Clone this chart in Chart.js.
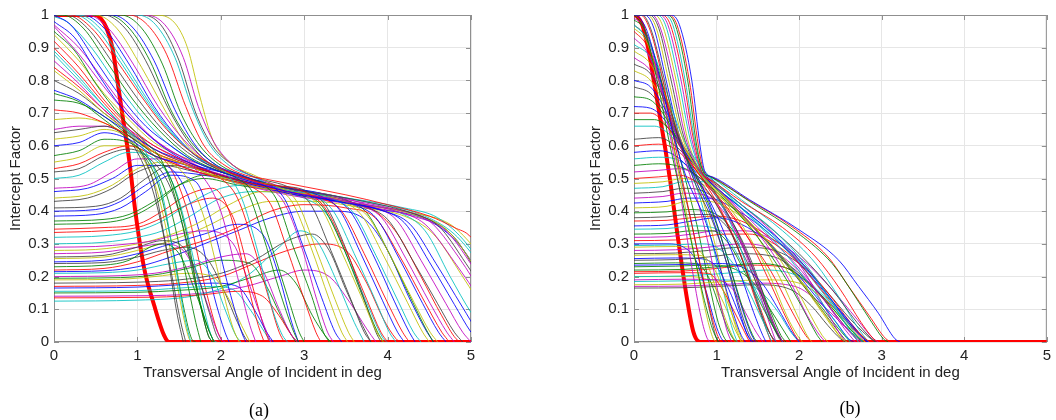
<!DOCTYPE html>
<html>
<head>
<meta charset="utf-8">
<script src="https://cdn.jsdelivr.net/npm/chart.js@4.4.1/dist/chart.umd.min.js"></script>
<style>
  body { margin: 0; background: #fff; width: 1056px; height: 420px; overflow: hidden; position: relative; }
  canvas { position: absolute; top: 0; }
  #chartA { left: 0; }
  #chartB { left: 528px; }
  .cap { position: absolute; font: 18px "Liberation Serif", "Times New Roman", serif; color: #000; transform: translate(-50%, -50%); }
</style>
</head>
<body>
<canvas id="chartA" width="528" height="420"></canvas>
<canvas id="chartB" width="528" height="420"></canvas>
<div class="cap" style="left:259px;top:410px">(a)</div>
<div class="cap" style="left:850px;top:408px">(b)</div>
<script>
const xTickLabels = ['0', '1', '2', '3', '4', '5'];
const yTickLabels = ['0', '0.1', '0.2', '0.3', '0.4', '0.5', '0.6', '0.7', '0.8', '0.9', '1'];
const xTitle = 'Transversal Angle of Incident in deg';
const yTitle = 'Intercept Factor';

// (a) curves that start on the 1.0 plateau
const topA = [
  [[0,1],[0.2,0.97],[0.5,0.86],[0.8,0.75],[1.1,0.66],[1.4,0.6],[1.7,0.55],[2.0,0.52],[2.8,0.46],[3.4,0.43],[3.96,0.4],[4.27,0.36],[4.58,0.24],[4.89,0.11],[5.1,0.025],[5.2,0]],
  [[0,1],[0.1,1],[0.35,0.96],[0.65,0.85],[0.95,0.74],[1.25,0.65],[1.6,0.57],[2.0,0.52],[2.2,0.5],[2.4,0.45],[2.6,0.3],[2.8,0.14],[2.94,0.03],[3.0,0]],
  [[0,1],[0.2,1],[0.45,0.96],[0.75,0.86],[1.05,0.75],[1.35,0.65],[1.65,0.58],[2.0,0.53],[2.5,0.485],[3.0,0.46],[3.25,0.41],[3.5,0.28],[3.75,0.13],[3.92,0.03],[4.0,0]],
  [[0,1],[0.3,1],[0.55,0.96],[0.85,0.85],[1.15,0.73],[1.45,0.63],[1.75,0.56],[2.05,0.52],[2.25,0.44],[2.45,0.27],[2.62,0.1],[2.74,0.02],[2.8,0]],
  [[0,1],[0.4,1],[0.65,0.96],[0.95,0.85],[1.25,0.72],[1.55,0.62],[1.85,0.55],[2.1,0.52],[2.8,0.46],[3.3,0.44],[3.64,0.42],[3.93,0.38],[4.22,0.255],[4.51,0.118],[4.71,0.03],[4.8,0]],
  [[0,1],[0.5,1],[0.75,0.96],[1.05,0.84],[1.35,0.7],[1.6,0.6],[1.9,0.54],[2.15,0.51],[2.4,0.49],[2.68,0.475],[2.91,0.43],[3.14,0.285],[3.37,0.13],[3.53,0.03],[3.6,0]],
  [[0,1],[0.6,1],[0.85,0.96],[1.1,0.86],[1.4,0.7],[1.65,0.6],[1.95,0.53],[2.2,0.51],[2.8,0.47],[3.4,0.445],[4.0,0.415],[4.28,0.395],[4.61,0.355],[4.94,0.24],[5.27,0.11],[5.5,0.02],[5.6,0]],
  [[0,1],[0.7,1],[0.95,0.96],[1.2,0.86],[1.45,0.71],[1.7,0.6],[1.95,0.54],[2.2,0.515],[2.6,0.48],[3.16,0.45],[3.42,0.405],[3.68,0.27],[3.94,0.126],[4.12,0.03],[4.2,0]],
  [[0,1],[0.8,1],[1.05,0.96],[1.3,0.85],[1.52,0.7],[1.75,0.6],[2.0,0.54],[2.25,0.51],[2.44,0.49],[2.66,0.44],[2.87,0.29],[3.09,0.14],[3.23,0.03],[3.3,0]],
  [[0,1],[0.9,1],[1.12,0.97],[1.35,0.88],[1.58,0.72],[1.8,0.6],[2.05,0.54],[2.3,0.51],[2.5,0.5],[3.0,0.475],[3.5,0.45],[4.0,0.42],[4.5,0.385],[4.8,0.35],[5.0,0.32],[5.3,0.18]],
  [[0,1],[1.0,1],[1.22,0.97],[1.45,0.87],[1.65,0.72],[1.85,0.61],[2.1,0.54],[2.35,0.51],[2.7,0.47],[3.32,0.44],[3.59,0.395],[3.86,0.265],[4.13,0.123],[4.31,0.03],[4.4,0]],
  [[0,1],[1.1,1],[1.33,0.97],[1.55,0.87],[1.73,0.72],[1.92,0.61],[2.15,0.54],[2.4,0.505],[2.8,0.47],[3.3,0.45],[3.8,0.415],[4.1,0.375],[4.4,0.25],[4.7,0.117],[4.9,0.03],[5.0,0]],
  [[0,1],[1.2,1],[1.45,0.975],[1.6,0.9],[1.75,0.75],[1.9,0.62],[2.1,0.55],[2.4,0.51],[2.8,0.465],[3.48,0.43],[3.76,0.385],[4.04,0.26],[4.32,0.12],[4.51,0.03],[4.6,0]],
  [[0,1],[1.05,1],[1.28,0.97],[1.5,0.86],[1.7,0.7],[1.9,0.6],[2.15,0.54],[2.4,0.505],[2.84,0.47],[3.08,0.42],[3.32,0.28],[3.56,0.13],[3.72,0.03],[3.8,0]]
];

// (a) curves that start between 0.7 and 1 and fall at once
const fallA = [
  [[0,0.98],[0.25,0.93],[0.5,0.83],[0.8,0.72],[1.1,0.64],[1.4,0.58],[1.7,0.54],[2.0,0.52],[2.3,0.5],[2.55,0.485],[2.77,0.435],[2.99,0.29],[3.21,0.135],[3.37,0.03],[3.45,0]],
  [[0,0.95],[0.25,0.89],[0.5,0.79],[0.8,0.69],[1.1,0.61],[1.3,0.55],[1.5,0.4],[1.7,0.17],[1.85,0.04],[1.92,0]],
  [[0,0.92],[0.3,0.84],[0.6,0.74],[0.9,0.66],[1.2,0.6],[1.6,0.55],[2.0,0.51],[2.7,0.465],[3.2,0.44],[3.45,0.4],[3.72,0.27],[3.99,0.125],[4.18,0.03],[4.26,0]],
  [[0,0.89],[0.3,0.81],[0.6,0.72],[0.9,0.64],[1.1,0.58],[1.3,0.45],[1.45,0.24],[1.58,0.06],[1.64,0]],
  [[0,0.86],[0.3,0.79],[0.6,0.71],[0.9,0.65],[1.2,0.6],[1.5,0.56],[1.8,0.5],[2.0,0.4],[2.2,0.2],[2.35,0.05],[2.42,0]],
  [[0,0.83],[0.3,0.77],[0.6,0.7],[0.9,0.64],[1.2,0.58],[1.6,0.54],[2.0,0.5],[2.5,0.47],[2.95,0.455],[3.2,0.41],[3.45,0.275],[3.7,0.13],[3.87,0.03],[3.95,0]],
  [[0,0.8],[0.3,0.76],[0.6,0.7],[0.8,0.66],[1.0,0.6],[1.2,0.48],[1.35,0.28],[1.48,0.08],[1.55,0]],
  [[0,0.77],[0.3,0.74],[0.6,0.69],[0.9,0.64],[1.2,0.59],[1.6,0.55],[2.0,0.51],[2.8,0.455],[3.4,0.43],[3.9,0.405],[4.2,0.365],[4.5,0.245],[4.8,0.115],[5.0,0.03],[5.1,0]],
  [[0,0.74],[0.3,0.73],[0.6,0.69],[0.9,0.63],[1.2,0.57],[1.4,0.5],[1.6,0.32],[1.75,0.12],[1.85,0.02],[1.9,0]],
  [[0,0.71],[0.3,0.7],[0.6,0.67],[0.9,0.63],[1.2,0.58],[1.6,0.54],[2.0,0.5],[2.2,0.44],[2.4,0.29],[2.58,0.13],[2.7,0.03],[2.76,0]],
  [[0,0.995],[0.15,0.98],[0.45,0.9],[0.75,0.79],[1.05,0.69],[1.35,0.61],[1.7,0.55],[2.0,0.52],[2.6,0.48],[3.4,0.445],[4.2,0.41],[4.6,0.38],[4.95,0.3],[5.3,0.16]],
  [[0,0.97],[0.3,0.9],[0.6,0.8],[0.9,0.7],[1.2,0.62],[1.5,0.57],[1.9,0.53],[2.6,0.475],[3.4,0.44],[4.1,0.405],[4.5,0.37],[4.85,0.26],[5.2,0.12]]
];

// (a) curves that start near 0.45-0.7 and bulge into the knot
const humpA = [
  [[0,0.68],[0.3,0.685],[0.6,0.67],[0.9,0.63],[1.2,0.58],[1.5,0.55],[1.8,0.52],[2.6,0.47],[3.4,0.435],[3.68,0.39],[3.96,0.26],[4.24,0.12],[4.42,0.03],[4.5,0]],
  [[0,0.64],[0.3,0.65],[0.6,0.66],[0.8,0.64],[1.0,0.58],[1.2,0.45],[1.4,0.22],[1.52,0.06],[1.58,0]],
  [[0,0.6],[0.3,0.61],[0.6,0.64],[0.9,0.62],[1.2,0.57],[1.6,0.54],[2.0,0.51],[2.8,0.46],[3.58,0.42],[3.86,0.38],[4.14,0.255],[4.42,0.118],[4.61,0.03],[4.7,0]],
  [[0,0.57],[0.3,0.585],[0.6,0.62],[0.9,0.61],[1.1,0.57],[1.35,0.45],[1.55,0.24],[1.7,0.06],[1.76,0]],
  [[0,0.53],[0.3,0.545],[0.6,0.58],[0.9,0.6],[1.2,0.57],[1.6,0.53],[2.0,0.5],[2.4,0.47],[2.6,0.42],[2.8,0.28],[3.0,0.13],[3.14,0.03],[3.2,0]],
  [[0,0.5],[0.3,0.51],[0.6,0.55],[0.9,0.58],[1.2,0.56],[1.45,0.47],[1.65,0.28],[1.8,0.1],[1.9,0.01],[1.95,0]],
  [[0,0.47],[0.4,0.48],[0.7,0.52],[1.0,0.56],[1.3,0.56],[1.6,0.53],[2.0,0.5],[2.8,0.455],[3.5,0.43],[4.1,0.4],[4.45,0.36],[4.8,0.245],[5.15,0.11],[5.33,0.02],[5.4,0]],
  [[0,0.44],[0.4,0.45],[0.7,0.48],[1.0,0.53],[1.3,0.55],[1.6,0.5],[1.8,0.38],[2.0,0.18],[2.15,0.04],[2.22,0]]
];

// (a) curves that start near 0.3-0.4 and rise towards the band
const riseA = [
  [[0,0.41],[0.5,0.415],[0.8,0.44],[1.1,0.5],[1.4,0.54],[1.7,0.53],[2.0,0.51],[2.5,0.48],[3.0,0.46],[3.4,0.44],[3.7,0.415],[4.0,0.375],[4.3,0.25],[4.6,0.117],[4.8,0.03],[4.9,0]],
  [[0,0.385],[0.5,0.39],[0.8,0.41],[1.1,0.46],[1.4,0.51],[1.7,0.49],[1.9,0.36],[2.1,0.16],[2.25,0.03],[2.3,0]],
  [[0,0.36],[0.6,0.365],[0.9,0.38],[1.2,0.42],[1.5,0.48],[1.8,0.51],[2.1,0.5],[2.3,0.47],[2.5,0.33],[2.7,0.16],[2.86,0.04],[2.93,0]],
  [[0,0.345],[0.6,0.35],[1.0,0.36],[1.3,0.4],[1.6,0.45],[1.9,0.47],[2.1,0.4],[2.3,0.2],[2.45,0.05],[2.52,0]],
  [[0,0.32],[0.6,0.325],[1.0,0.34],[1.3,0.37],[1.6,0.42],[2.0,0.47],[2.4,0.48],[3.1,0.45],[3.35,0.4],[3.6,0.27],[3.85,0.13],[4.02,0.03],[4.1,0]]
];

// (a) low curves, 0.12-0.3
const lowA = [
  [[0,0.29],[0.5,0.292],[0.9,0.3],[1.2,0.31],[1.5,0.33],[1.8,0.34],[2.15,0.3],[2.35,0.17],[2.52,0.05],[2.6,0]],
  [[0,0.28],[0.5,0.283],[1.0,0.3],[1.3,0.32],[1.7,0.36],[2.1,0.42],[2.5,0.46],[3.0,0.45],[3.6,0.425],[4.3,0.39],[4.7,0.345],[5.05,0.23],[5.4,0.1],[5.65,0.02],[5.75,0]],
  [[0,0.26],[0.6,0.265],[1.0,0.29],[1.3,0.31],[1.5,0.3],[1.7,0.22],[1.85,0.1],[1.95,0.02],[2.0,0]],
  [[0,0.245],[0.6,0.25],[1.0,0.27],[1.4,0.3],[1.8,0.33],[2.2,0.36],[2.5,0.33],[2.7,0.2],[2.85,0.06],[2.93,0]],
  [[0,0.23],[0.6,0.235],[0.9,0.25],[1.15,0.29],[1.3,0.3],[1.5,0.27],[1.7,0.15],[1.85,0.04],[1.92,0]],
  [[0,0.22],[0.6,0.225],[1.0,0.245],[1.4,0.28],[1.8,0.31],[2.2,0.35],[2.6,0.4],[3.0,0.42],[3.5,0.41],[3.85,0.38],[4.15,0.26],[4.45,0.12],[4.65,0.03],[4.74,0]],
  [[0,0.21],[0.6,0.212],[1.0,0.22],[1.4,0.24],[1.7,0.25],[1.9,0.2],[2.05,0.1],[2.18,0.02],[2.24,0]],
  [[0,0.2],[0.8,0.203],[1.2,0.21],[1.6,0.23],[2.0,0.26],[2.3,0.27],[2.5,0.22],[2.7,0.1],[2.85,0.02],[2.92,0]],
  [[0,0.19],[0.8,0.192],[1.2,0.2],[1.6,0.21],[1.9,0.2],[2.1,0.13],[2.25,0.05],[2.35,0]],
  [[0,0.18],[1.0,0.183],[1.5,0.19],[2.0,0.21],[2.4,0.25],[2.8,0.31],[3.1,0.33],[3.3,0.28],[3.5,0.16],[3.7,0.05],[3.8,0]],
  [[0,0.165],[1.0,0.168],[1.5,0.175],[1.9,0.18],[2.2,0.17],[2.4,0.1],[2.55,0.03],[2.63,0]],
  [[0,0.15],[1.0,0.152],[1.5,0.158],[2.0,0.17],[2.4,0.2],[2.7,0.22],[2.9,0.18],[3.1,0.08],[3.25,0.02],[3.32,0]],
  [[0,0.135],[1.2,0.137],[1.8,0.145],[2.2,0.155],[2.5,0.14],[2.7,0.08],[2.85,0.02],[2.92,0]],
  [[0,0.125],[1.0,0.128],[1.75,0.145],[2.3,0.2],[2.7,0.29],[2.95,0.34],[3.15,0.31],[3.4,0.18],[3.6,0.06],[3.72,0]]
];

// (a) further curves filling the family
const moreA = [
  [[0,0.965],[0.3,0.88],[0.6,0.78],[0.9,0.69],[1.2,0.62],[1.5,0.57],[1.8,0.53],[2.2,0.5],[2.5,0.48],[2.75,0.43],[2.97,0.29],[3.15,0.13],[3.28,0.03],[3.35,0]],
  [[0,0.94],[0.3,0.86],[0.6,0.76],[0.9,0.68],[1.2,0.61],[1.6,0.56],[2.0,0.52],[2.6,0.475],[2.85,0.43],[3.08,0.29],[3.3,0.13],[3.45,0.03],[3.52,0]],
  [[0,1],[0.15,1],[0.4,0.96],[0.7,0.855],[1.0,0.745],[1.3,0.65],[1.6,0.58],[1.95,0.53],[2.6,0.48],[3.0,0.465],[3.25,0.42],[3.5,0.285],[3.72,0.13],[3.86,0.03],[3.92,0]],
  [[0,1],[0.35,1],[0.6,0.96],[0.9,0.85],[1.2,0.72],[1.5,0.62],[1.8,0.55],[2.1,0.52],[2.7,0.475],[3.3,0.445],[3.55,0.4],[3.82,0.27],[4.08,0.125],[4.26,0.03],[4.33,0]],
  [[0,1],[0.65,1],[0.9,0.96],[1.15,0.86],[1.42,0.7],[1.68,0.6],[1.95,0.54],[2.2,0.51],[2.8,0.47],[3.5,0.435],[3.75,0.395],[4.03,0.265],[4.3,0.122],[4.48,0.03],[4.55,0]],
  [[0,0.9],[0.3,0.82],[0.6,0.73],[0.9,0.65],[1.2,0.59],[1.6,0.545],[2.0,0.51],[2.8,0.46],[3.5,0.43],[3.85,0.4],[4.12,0.33],[4.4,0.2],[4.65,0.08],[4.82,0.01],[4.88,0]],
  [[0,0.88],[0.3,0.8],[0.6,0.72],[0.9,0.645],[1.2,0.59],[1.6,0.545],[2.0,0.51],[2.8,0.46],[3.6,0.425],[4.15,0.395],[4.45,0.34],[4.75,0.2],[5.0,0.09],[5.2,0.02],[5.3,0]],
  [[0,0.65],[0.3,0.66],[0.6,0.66],[0.9,0.63],[1.2,0.58],[1.6,0.54],[2.0,0.5],[2.8,0.45],[3.6,0.42],[4.3,0.385],[4.7,0.34],[5.05,0.22],[5.4,0.09],[5.65,0.01],[5.7,0]],
  [[0,0.55],[0.3,0.565],[0.6,0.6],[0.9,0.6],[1.2,0.57],[1.6,0.53],[2.0,0.5],[2.8,0.455],[3.5,0.425],[4.3,0.395],[4.75,0.36],[5.0,0.3],[5.3,0.2]],
  [[0,0.43],[0.4,0.44],[0.7,0.47],[1.0,0.52],[1.3,0.54],[1.7,0.52],[2.1,0.5],[2.9,0.455],[3.7,0.42],[4.4,0.385],[4.8,0.32],[5.1,0.2],[5.4,0.08]],
  [[0,0.4],[0.5,0.405],[0.8,0.43],[1.1,0.48],[1.4,0.52],[1.8,0.51],[2.2,0.49],[3.0,0.45],[3.8,0.41],[4.5,0.37],[4.85,0.3],[5.2,0.17]],
  [[0,0.37],[0.6,0.375],[0.9,0.39],[1.2,0.43],[1.5,0.48],[1.8,0.5],[2.2,0.48],[2.9,0.45],[3.2,0.42],[3.45,0.3],[3.7,0.14],[3.88,0.03],[3.95,0]],
  [[0,0.335],[0.6,0.34],[1.0,0.35],[1.3,0.38],[1.6,0.42],[1.9,0.44],[2.15,0.38],[2.35,0.2],[2.5,0.06],[2.58,0]],
  [[0,0.3],[0.6,0.305],[1.0,0.32],[1.3,0.34],[1.6,0.38],[2.0,0.44],[2.4,0.46],[3.0,0.44],[3.3,0.38],[3.55,0.24],[3.8,0.09],[3.95,0.01],[4.0,0]],
  [[0,0.27],[0.6,0.275],[1.0,0.29],[1.3,0.3],[1.55,0.28],[1.75,0.18],[1.9,0.07],[2.0,0.01],[2.05,0]],
  [[0,0.255],[0.6,0.26],[1.0,0.28],[1.4,0.31],[1.8,0.35],[2.2,0.4],[2.6,0.43],[3.1,0.43],[3.7,0.41],[4.2,0.385],[4.55,0.33],[4.9,0.2],[5.2,0.08],[5.4,0.01]],
  [[0,0.24],[0.6,0.243],[1.0,0.26],[1.3,0.28],[1.6,0.29],[1.85,0.25],[2.05,0.15],[2.2,0.06],[2.3,0.01],[2.34,0]],
  [[0,0.215],[0.6,0.218],[1.0,0.23],[1.4,0.26],[1.8,0.3],[2.2,0.34],[2.6,0.38],[3.0,0.4],[3.4,0.4],[3.75,0.37],[4.0,0.28],[4.25,0.14],[4.45,0.04],[4.55,0]],
  [[0,0.195],[0.8,0.197],[1.2,0.205],[1.6,0.225],[2.0,0.25],[2.35,0.24],[2.55,0.17],[2.72,0.08],[2.85,0.02],[2.9,0]],
  [[0,0.17],[1.0,0.173],[1.5,0.18],[2.0,0.2],[2.4,0.24],[2.8,0.28],[3.2,0.3],[3.5,0.28],[3.75,0.18],[3.95,0.07],[4.1,0.01],[4.15,0]],
  [[0,0.155],[1.0,0.157],[1.5,0.165],[1.9,0.17],[2.15,0.16],[2.35,0.1],[2.5,0.04],[2.6,0]],
  [[0,0.14],[1.2,0.142],[1.8,0.15],[2.3,0.17],[2.7,0.2],[3.0,0.22],[3.3,0.2],[3.55,0.12],[3.75,0.04],[3.86,0]],
  [[0,0.62],[0.3,0.63],[0.6,0.65],[0.85,0.63],[1.05,0.57],[1.25,0.45],[1.42,0.25],[1.55,0.08],[1.62,0.01],[1.65,0]],
  [[0,0.52],[0.3,0.53],[0.6,0.57],[0.9,0.59],[1.15,0.56],[1.4,0.47],[1.6,0.3],[1.75,0.12],[1.85,0.02],[1.9,0]],
  [[0,0.46],[0.4,0.47],[0.7,0.5],[1.0,0.54],[1.3,0.54],[1.55,0.48],[1.75,0.33],[1.92,0.14],[2.05,0.03],[2.1,0]],
  [[0,0.76],[0.3,0.735],[0.6,0.68],[0.85,0.63],[1.05,0.58],[1.25,0.48],[1.42,0.29],[1.56,0.1],[1.65,0.01],[1.7,0]],
  [[0,0.84],[0.3,0.78],[0.6,0.71],[0.9,0.645],[1.15,0.59],[1.4,0.53],[1.6,0.4],[1.8,0.18],[1.95,0.04],[2.02,0]],
  [[0,1],[0.25,1],[0.5,0.96],[0.8,0.855],[1.1,0.74],[1.4,0.64],[1.7,0.57],[2.0,0.53],[2.6,0.48],[3.2,0.455],[3.8,0.425],[4.4,0.39],[4.8,0.33],[5.1,0.24],[5.4,0.13]]
];

const redA = [[0,1],[0.5,1],[0.56,0.99],[0.63,0.96],[0.7,0.9],[0.76,0.8],[0.82,0.695],[0.9,0.56],[0.98,0.39],[1.08,0.227],[1.2,0.113],[1.32,0.02],[1.38,0],[5,0]];

// (b) curves that start on the 1.0 plateau
const topB = [
  [[0,1],[0.45,1],[0.55,0.97],[0.7,0.8],[0.8,0.6],[0.86,0.52],[0.95,0.505],[1.4,0.435],[2.0,0.343],[2.48,0.25],[2.72,0.17],[2.96,0.088],[3.16,0.01],[3.22,0]],
  [[0,1],[0.4,1],[0.5,0.97],[0.65,0.8],[0.76,0.6],[0.84,0.52],[0.93,0.505],[1.4,0.43],[2.0,0.33],[2.4,0.24],[2.65,0.15],[2.88,0.06],[3.02,0.01],[3.08,0]],
  [[0,1],[0.34,1],[0.44,0.97],[0.6,0.8],[0.72,0.62],[0.84,0.51],[0.93,0.495],[1.3,0.43],[1.8,0.35],[2.2,0.26],[2.5,0.16],[2.75,0.06],[2.9,0.01],[2.95,0]],
  [[0,1],[0.28,1],[0.38,0.97],[0.54,0.8],[0.68,0.62],[0.82,0.52],[0.91,0.505],[1.2,0.44],[1.7,0.34],[2.1,0.23],[2.4,0.12],[2.6,0.04],[2.72,0]],
  [[0,1],[0.22,1],[0.32,0.96],[0.48,0.8],[0.62,0.63],[0.8,0.52],[0.89,0.5],[1.2,0.42],[1.6,0.3],[1.9,0.18],[2.1,0.08],[2.25,0.02],[2.32,0]],
  [[0,1],[0.16,1],[0.27,0.96],[0.42,0.8],[0.58,0.63],[0.78,0.52],[0.87,0.495],[1.1,0.43],[1.4,0.32],[1.65,0.2],[1.85,0.08],[1.98,0.02],[2.04,0]],
  [[0,1],[0.1,1],[0.2,0.96],[0.36,0.81],[0.52,0.64],[0.7,0.53],[0.95,0.44],[1.2,0.32],[1.4,0.19],[1.55,0.08],[1.66,0.02],[1.72,0]],
  [[0,1],[0.05,0.995],[0.16,0.95],[0.32,0.8],[0.48,0.63],[0.64,0.5],[0.85,0.38],[1.05,0.22],[1.2,0.09],[1.3,0.02],[1.35,0]],
  [[0,1],[0.12,0.96],[0.28,0.8],[0.42,0.62],[0.56,0.46],[0.7,0.3],[0.84,0.14],[0.95,0.04],[1.02,0]],
  [[0,1],[0.08,1],[0.2,0.95],[0.35,0.8],[0.5,0.6],[0.65,0.42],[0.8,0.24],[0.94,0.08],[1.03,0.01],[1.08,0]]
];

// (b) curves that start between 0.65 and 1 and fall at once
const fallB = [
  [[0,0.97],[0.15,0.93],[0.3,0.84],[0.45,0.72],[0.6,0.62],[0.8,0.54],[1.1,0.46],[1.5,0.36],[1.9,0.25],[2.25,0.13],[2.5,0.04],[2.62,0]],
  [[0,0.93],[0.15,0.89],[0.3,0.8],[0.45,0.68],[0.6,0.57],[0.75,0.45],[0.9,0.3],[1.02,0.15],[1.12,0.04],[1.18,0]],
  [[0,0.89],[0.2,0.85],[0.4,0.74],[0.6,0.6],[0.8,0.52],[1.1,0.44],[1.5,0.34],[1.85,0.22],[2.1,0.1],[2.28,0.02],[2.35,0]],
  [[0,0.85],[0.2,0.82],[0.4,0.72],[0.6,0.58],[0.75,0.48],[0.95,0.37],[1.15,0.22],[1.3,0.09],[1.4,0.02],[1.45,0]],
  [[0,0.8],[0.2,0.78],[0.4,0.7],[0.6,0.59],[0.8,0.52],[1.1,0.45],[1.5,0.37],[1.9,0.28],[2.3,0.16],[2.6,0.06],[2.78,0.01],[2.84,0]],
  [[0,0.75],[0.2,0.74],[0.4,0.68],[0.6,0.58],[0.8,0.48],[1.0,0.36],[1.2,0.2],[1.36,0.07],[1.46,0.01],[1.5,0]],
  [[0,0.7],[0.2,0.7],[0.4,0.66],[0.6,0.58],[0.8,0.51],[1.1,0.42],[1.4,0.31],[1.65,0.18],[1.85,0.07],[1.98,0.01],[2.03,0]],
  [[0,0.66],[0.25,0.66],[0.45,0.63],[0.65,0.57],[0.85,0.5],[1.1,0.4],[1.3,0.28],[1.48,0.14],[1.6,0.04],[1.67,0]],
  [[0,0.99],[0.1,0.97],[0.25,0.86],[0.4,0.68],[0.55,0.47],[0.68,0.26],[0.8,0.09],[0.88,0.015],[0.92,0]],
  [[0,0.96],[0.15,0.92],[0.3,0.8],[0.45,0.63],[0.6,0.44],[0.75,0.24],[0.88,0.08],[0.96,0.01],[1.0,0]]
];

// (b) curves that start near 0.33-0.62
const humpB = [
  [[0,0.62],[0.3,0.625],[0.5,0.6],[0.7,0.55],[0.9,0.5],[1.2,0.44],[1.6,0.36],[2.0,0.27],[2.4,0.16],[2.7,0.06],[2.88,0.01],[2.94,0]],
  [[0,0.58],[0.3,0.585],[0.5,0.57],[0.7,0.52],[0.9,0.44],[1.1,0.33],[1.3,0.2],[1.45,0.09],[1.56,0.02],[1.6,0]],
  [[0,0.54],[0.3,0.545],[0.5,0.54],[0.7,0.52],[0.9,0.48],[1.2,0.41],[1.5,0.32],[1.8,0.21],[2.05,0.1],[2.22,0.02],[2.28,0]],
  [[0,0.5],[0.3,0.505],[0.55,0.51],[0.75,0.49],[0.95,0.44],[1.15,0.35],[1.35,0.23],[1.52,0.11],[1.64,0.03],[1.7,0]],
  [[0,0.47],[0.35,0.475],[0.6,0.49],[0.85,0.49],[1.1,0.45],[1.4,0.39],[1.8,0.3],[2.2,0.19],[2.5,0.09],[2.7,0.02],[2.78,0]],
  [[0,0.44],[0.35,0.445],[0.6,0.455],[0.85,0.45],[1.05,0.41],[1.25,0.33],[1.45,0.22],[1.62,0.1],[1.74,0.03],[1.8,0]],
  [[0,0.41],[0.4,0.415],[0.65,0.43],[0.9,0.43],[1.2,0.4],[1.5,0.34],[1.8,0.26],[2.1,0.16],[2.35,0.07],[2.52,0.01],[2.58,0]],
  [[0,0.38],[0.4,0.383],[0.65,0.39],[0.9,0.39],[1.1,0.36],[1.3,0.28],[1.5,0.17],[1.66,0.07],[1.77,0.01],[1.82,0]],
  [[0,0.355],[0.4,0.358],[0.7,0.37],[1.0,0.38],[1.3,0.36],[1.6,0.31],[1.9,0.23],[2.2,0.14],[2.45,0.06],[2.6,0.01],[2.66,0]],
  [[0,0.33],[0.4,0.332],[0.7,0.34],[0.95,0.34],[1.15,0.3],[1.35,0.21],[1.55,0.11],[1.7,0.04],[1.8,0]]
];

// (b) low curves, 0.16-0.31
const lowB = [
  [[0,0.31],[0.5,0.312],[0.8,0.32],[1.1,0.33],[1.4,0.33],[1.7,0.3],[2.0,0.24],[2.3,0.15],[2.6,0.06],[2.8,0.01],[2.86,0]],
  [[0,0.295],[0.5,0.297],[0.8,0.3],[1.0,0.29],[1.2,0.24],[1.4,0.15],[1.55,0.07],[1.66,0.02],[1.72,0]],
  [[0,0.28],[0.5,0.282],[0.9,0.29],[1.3,0.3],[1.6,0.29],[1.9,0.24],[2.2,0.16],[2.45,0.08],[2.65,0.02],[2.72,0]],
  [[0,0.265],[0.5,0.267],[0.8,0.265],[0.98,0.22],[1.12,0.13],[1.24,0.05],[1.32,0]],
  [[0,0.25],[0.5,0.252],[0.9,0.26],[1.3,0.27],[1.7,0.26],[2.0,0.21],[2.3,0.13],[2.55,0.05],[2.72,0.01],[2.78,0]],
  [[0,0.235],[0.6,0.237],[1.0,0.24],[1.3,0.23],[1.55,0.18],[1.75,0.1],[1.9,0.035],[2.0,0]],
  [[0,0.22],[0.6,0.222],[1.0,0.23],[1.5,0.24],[1.9,0.22],[2.2,0.16],[2.45,0.09],[2.65,0.03],[2.78,0]],
  [[0,0.21],[0.6,0.212],[0.9,0.21],[1.05,0.17],[1.2,0.1],[1.32,0.04],[1.4,0]],
  [[0,0.2],[0.6,0.202],[1.1,0.21],[1.6,0.22],[2.0,0.2],[2.3,0.14],[2.55,0.07],[2.75,0.02],[2.85,0]],
  [[0,0.19],[0.6,0.192],[1.0,0.19],[1.2,0.16],[1.35,0.09],[1.48,0.03],[1.56,0]],
  [[0,0.175],[0.6,0.177],[1.1,0.185],[1.6,0.19],[2.0,0.18],[2.3,0.13],[2.55,0.06],[2.72,0.015],[2.8,0]],
  [[0,0.165],[0.6,0.166],[1.0,0.17],[1.5,0.175],[1.9,0.16],[2.15,0.11],[2.35,0.05],[2.5,0.01],[2.56,0]],
  [[0,0.3],[0.4,0.3],[0.6,0.29],[0.75,0.25],[0.88,0.15],[0.98,0.06],[1.06,0.01],[1.1,0]],
  [[0,0.24],[0.5,0.242],[0.75,0.24],[0.9,0.2],[1.02,0.12],[1.12,0.05],[1.2,0.01],[1.24,0]]
];

// (b) further curves filling the family
const moreB = [
  [[0,1],[0.42,1],[0.52,0.97],[0.67,0.8],[0.78,0.6],[0.85,0.52],[0.94,0.505],[1.35,0.44],[1.9,0.355],[2.35,0.26],[2.6,0.17],[2.85,0.08],[3.05,0.01],[3.12,0]],
  [[0,1],[0.37,1],[0.47,0.97],[0.62,0.8],[0.74,0.61],[0.84,0.52],[0.93,0.505],[1.3,0.435],[1.8,0.34],[2.2,0.24],[2.5,0.13],[2.72,0.04],[2.84,0]],
  [[0,1],[0.31,1],[0.41,0.97],[0.57,0.8],[0.7,0.62],[0.83,0.515],[0.92,0.5],[1.25,0.43],[1.7,0.33],[2.05,0.22],[2.3,0.11],[2.48,0.03],[2.56,0]],
  [[0,1],[0.25,1],[0.35,0.965],[0.51,0.8],[0.65,0.62],[0.81,0.52],[0.9,0.5],[1.15,0.43],[1.5,0.32],[1.78,0.19],[1.98,0.08],[2.12,0.01],[2.16,0]],
  [[0,1],[0.19,1],[0.3,0.96],[0.45,0.8],[0.6,0.63],[0.79,0.52],[0.88,0.495],[1.05,0.43],[1.3,0.31],[1.5,0.18],[1.65,0.07],[1.76,0.01],[1.8,0]],
  [[0,1],[0.13,1],[0.24,0.96],[0.39,0.8],[0.55,0.63],[0.72,0.51],[0.92,0.4],[1.1,0.26],[1.25,0.12],[1.36,0.03],[1.42,0]],
  [[0,0.985],[0.12,0.96],[0.28,0.85],[0.44,0.68],[0.6,0.52],[0.76,0.36],[0.9,0.19],[1.02,0.06],[1.1,0.01],[1.14,0]],
  [[0,0.95],[0.15,0.91],[0.3,0.82],[0.45,0.7],[0.6,0.59],[0.8,0.51],[1.05,0.43],[1.35,0.33],[1.65,0.22],[1.9,0.1],[2.08,0.02],[2.15,0]],
  [[0,0.91],[0.2,0.87],[0.35,0.78],[0.5,0.66],[0.65,0.55],[0.8,0.44],[0.95,0.3],[1.08,0.16],[1.18,0.05],[1.25,0]],
  [[0,0.87],[0.2,0.83],[0.4,0.73],[0.6,0.6],[0.8,0.52],[1.1,0.45],[1.5,0.35],[1.95,0.24],[2.3,0.13],[2.55,0.04],[2.68,0]],
  [[0,0.83],[0.2,0.8],[0.4,0.71],[0.55,0.62],[0.7,0.53],[0.85,0.42],[1.0,0.28],[1.13,0.14],[1.24,0.04],[1.3,0]],
  [[0,0.78],[0.2,0.76],[0.4,0.69],[0.6,0.59],[0.8,0.52],[1.1,0.44],[1.45,0.35],[1.8,0.25],[2.15,0.14],[2.42,0.05],[2.58,0]],
  [[0,0.72],[0.2,0.715],[0.4,0.67],[0.6,0.58],[0.8,0.49],[0.98,0.38],[1.15,0.24],[1.3,0.11],[1.41,0.03],[1.47,0]],
  [[0,0.68],[0.25,0.68],[0.45,0.645],[0.65,0.58],[0.85,0.51],[1.15,0.43],[1.5,0.34],[1.85,0.24],[2.2,0.13],[2.48,0.04],[2.62,0]],
  [[0,0.6],[0.3,0.605],[0.5,0.59],[0.7,0.54],[0.9,0.47],[1.1,0.38],[1.3,0.26],[1.47,0.13],[1.6,0.04],[1.66,0]],
  [[0,0.56],[0.3,0.565],[0.5,0.56],[0.7,0.53],[0.9,0.49],[1.2,0.43],[1.6,0.34],[2.0,0.24],[2.35,0.13],[2.62,0.04],[2.76,0]],
  [[0,0.52],[0.3,0.525],[0.55,0.53],[0.75,0.51],[0.95,0.46],[1.15,0.38],[1.35,0.27],[1.52,0.15],[1.65,0.05],[1.72,0]],
  [[0,0.485],[0.35,0.49],[0.6,0.5],[0.85,0.48],[1.1,0.43],[1.4,0.36],[1.7,0.28],[2.0,0.19],[2.28,0.09],[2.48,0.02],[2.55,0]],
  [[0,0.455],[0.35,0.46],[0.6,0.47],[0.85,0.46],[1.05,0.42],[1.25,0.34],[1.45,0.23],[1.6,0.12],[1.72,0.04],[1.8,0]],
  [[0,0.425],[0.4,0.43],[0.65,0.44],[0.9,0.44],[1.2,0.41],[1.55,0.35],[1.9,0.27],[2.25,0.17],[2.55,0.08],[2.75,0.02],[2.82,0]],
  [[0,0.395],[0.4,0.398],[0.65,0.405],[0.9,0.4],[1.1,0.37],[1.3,0.3],[1.5,0.19],[1.66,0.09],[1.78,0.02],[1.84,0]],
  [[0,0.37],[0.4,0.372],[0.7,0.38],[1.0,0.385],[1.3,0.37],[1.65,0.32],[2.0,0.25],[2.35,0.15],[2.62,0.06],[2.8,0.01],[2.86,0]],
  [[0,0.345],[0.4,0.347],[0.7,0.355],[0.95,0.35],[1.15,0.31],[1.35,0.22],[1.55,0.12],[1.7,0.04],[1.8,0]],
  [[0,0.32],[0.4,0.322],[0.7,0.33],[1.0,0.34],[1.35,0.34],[1.7,0.31],[2.05,0.25],[2.4,0.16],[2.7,0.07],[2.9,0.01],[2.96,0]],
  [[0,0.29],[0.5,0.292],[0.7,0.29],[0.85,0.26],[0.97,0.18],[1.08,0.09],[1.17,0.03],[1.23,0]],
  [[0,0.27],[0.5,0.272],[0.9,0.28],[1.3,0.29],[1.7,0.28],[2.05,0.23],[2.35,0.15],[2.62,0.07],[2.82,0.02],[2.92,0]],
  [[0,0.255],[0.5,0.257],[0.8,0.255],[1.0,0.23],[1.15,0.16],[1.28,0.08],[1.38,0.02],[1.44,0]],
  [[0,0.23],[0.5,0.232],[0.9,0.235],[1.2,0.225],[1.45,0.18],[1.65,0.1],[1.8,0.04],[1.9,0]],
  [[0,0.215],[0.6,0.217],[1.0,0.225],[1.4,0.235],[1.8,0.23],[2.1,0.18],[2.4,0.11],[2.65,0.04],[2.8,0]],
  [[0,0.185],[0.6,0.187],[1.0,0.19],[1.3,0.185],[1.55,0.15],[1.75,0.09],[1.9,0.03],[2.0,0]],
  [[0,0.17],[0.6,0.171],[1.0,0.175],[1.5,0.18],[1.95,0.17],[2.25,0.12],[2.5,0.06],[2.7,0.01],[2.76,0]],
  [[0,0.2],[0.6,0.2],[0.85,0.195],[1.0,0.16],[1.12,0.1],[1.22,0.04],[1.3,0]],
  [[0,0.97],[0.12,0.94],[0.26,0.84],[0.4,0.69],[0.55,0.52],[0.7,0.36],[0.82,0.21],[0.93,0.08],[1.0,0.01],[1.04,0]]
];

const redB = [[0,1],[0.04,0.995],[0.1,0.97],[0.17,0.9],[0.24,0.8],[0.38,0.59],[0.44,0.49],[0.52,0.34],[0.64,0.135],[0.72,0.03],[0.8,0],[5,0]];

const palette = ['rgba(0,0,255,0.85)', 'rgba(0,128,0,0.85)', 'rgba(255,0,0,0.85)', 'rgba(0,191,191,0.85)',
                 'rgba(191,0,191,0.85)', 'rgba(191,191,0,0.85)', 'rgba(64,64,64,0.85)'];
const fontFamily = '"Liberation Sans", Arial, sans-serif';

// MATLAB style box with inward ticks on all four sides
const boxTicks = {
  id: 'boxTicks',
  beforeDatasetsDraw(chart) {
    const { ctx, chartArea: a, scales: { x, y } } = chart;
    ctx.save();
    ctx.strokeStyle = '#8f8f8f';
    ctx.lineWidth = 1;
    ctx.beginPath();
    ctx.rect(a.left + 0.5, a.top + 0.5, a.width - 1, a.height - 1);
    x.ticks.forEach(t => {
      const px = Math.round(x.getPixelForValue(t.value)) + 0.5;
      ctx.moveTo(px, a.bottom); ctx.lineTo(px, a.bottom - 5);
      ctx.moveTo(px, a.top); ctx.lineTo(px, a.top + 5);
    });
    y.ticks.forEach(t => {
      const py = Math.round(y.getPixelForValue(t.value)) + 0.5;
      ctx.moveTo(a.left, py); ctx.lineTo(a.left + 5, py);
      ctx.moveTo(a.right, py); ctx.lineTo(a.right - 5, py);
    });
    ctx.stroke();
    ctx.restore();
  }
};

function makeChart(id, groups, red, padLeft, padRight) {
  const datasets = [];
  let n = 0;
  groups.forEach(group => group.forEach(curve => {
    datasets.push({
      data: curve.map(p => ({ x: p[0], y: p[1] })),
      borderColor: palette[n++ % palette.length],
      borderWidth: 1
    });
  }));
  datasets.push({ data: red.map(p => ({ x: p[0], y: p[1] })), borderColor: '#ff0000', borderWidth: 4 });

  new Chart(document.getElementById(id), {
    type: 'line',
    data: { datasets },
    options: {
      responsive: false,
      animation: false,
      devicePixelRatio: 1,
      layout: { padding: { left: padLeft, right: padRight, top: 15, bottom: 38 } },
      elements: { point: { radius: 0 }, line: { cubicInterpolationMode: 'monotone', fill: false } },
      plugins: { legend: { display: false }, tooltip: { enabled: false } },
      scales: {
        x: {
          type: 'linear', min: 0, max: 5,
          afterFit: s => { s.height = 40; },
          border: { display: false },
          grid: { color: '#e6e6e6', drawTicks: false },
          ticks: { stepSize: 1, padding: 5, color: '#222', maxRotation: 0, autoSkip: false,
                   font: { size: 15, family: fontFamily }, callback: (v, i) => xTickLabels[i] },
          title: { display: true, text: xTitle, color: '#222', padding: 0, font: { size: 15, family: fontFamily } }
        },
        y: {
          type: 'linear', min: 0, max: 1,
          afterFit: s => { s.width = 47; },
          border: { display: false },
          grid: { color: '#e6e6e6', drawTicks: false },
          ticks: { stepSize: 0.1, padding: 5, color: '#222', autoSkip: false,
                   font: { size: 15, family: fontFamily }, callback: (v, i) => yTickLabels[i] },
          title: { display: true, text: yTitle, color: '#222', padding: 0, font: { size: 15, family: fontFamily } }
        }
      }
    },
    plugins: [boxTicks]
  });
}

makeChart('chartA', [topA, fallA, humpA, riseA, lowA, moreA], redA, 7, 57);
makeChart('chartB', [topB, fallB, humpB, lowB, moreB], redB, 59, 6);
</script>
</body>
</html>
